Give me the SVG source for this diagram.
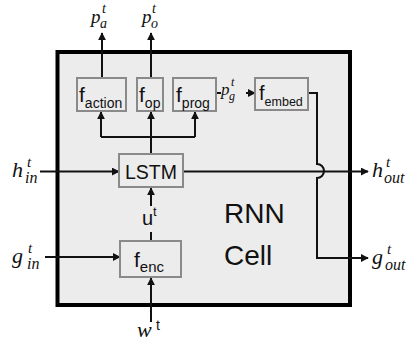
<svg xmlns="http://www.w3.org/2000/svg" width="411" height="347" viewBox="0 0 411 347">
<style>
.box{fill:#ececec;stroke:#8a8a8a;stroke-width:2}
.cell{fill:#ececec;stroke:#000;stroke-width:4}
.ln{fill:none;stroke:#111;stroke-width:2}
.arr{fill:none;stroke:#111;stroke-width:2;marker-end:url(#ah)}
.sf{font-family:"Liberation Sans",Arial,sans-serif;fill:#111}
.m{font-family:"Liberation Serif","Times New Roman",serif;font-style:italic;fill:#111}
</style>
<defs>
<marker id="ah" viewBox="0 0 10 10" refX="9" refY="5" markerWidth="4" markerHeight="4" orient="auto" markerUnits="strokeWidth">
<path d="M0,0 L10,5 L0,10 z" fill="#111"/>
</marker>
</defs>
<rect fill="#fff" width="411" height="347"/>
<g id="rnn-cell">
<rect class="cell" x="57.5" y="52" width="292.5" height="253"/>
<text class="sf" x="224" y="223" font-size="28">RNN</text>
<text class="sf" x="224" y="265" font-size="28">Cell</text>
</g>
<g id="connectors">
<path class="arr" d="M102,78 V33"/>
<path class="arr" d="M151,78 V33"/>
<path class="ln" d="M151,154 V137 M101,137 H195"/>
<path class="arr" d="M101,137 V112"/>
<path class="arr" d="M151,137 V112"/>
<path class="arr" d="M195,137 V112"/>
<path class="ln" d="M216,93 H221"/>
<path class="arr" d="M246,93 H255"/>
<path class="ln" d="M308,93 H317 V164 A7,7 0 0 1 317,178 V258 H362"/>
<path class="arr" d="M317,258 H368"/>
<path class="arr" d="M183,171.5 H368"/>
<path class="arr" d="M40,171.5 H119"/>
<path class="arr" d="M45,257 H120"/>
<path class="arr" d="M151,322 V278"/>
<path class="ln" d="M151,241 V232"/>
<path class="arr" d="M151,206 V188"/>
</g>
<g id="f_action">
<rect class="box" x="77" y="78" width="49" height="33"/>
<text class="sf" x="79" y="102" font-size="21">f<tspan font-size="14" dy="6">action</tspan></text>
</g>
<g id="f_op">
<rect class="box" x="137" y="78" width="26" height="33"/>
<text class="sf" x="139" y="102" font-size="21">f<tspan font-size="14" dy="6">op</tspan></text>
</g>
<g id="f_prog">
<rect class="box" x="173" y="78" width="43" height="33"/>
<text class="sf" x="176" y="102" font-size="21">f<tspan font-size="14" dy="6">prog</tspan></text>
</g>
<g id="f_embed">
<rect class="box" x="255" y="78" width="53" height="32"/>
<text class="sf" x="259" y="100" font-size="20">f<tspan font-size="12.5" dy="6">embed</tspan></text>
</g>
<g id="LSTM">
<rect class="box" x="119" y="154" width="64" height="33"/>
<text class="sf" x="151" y="179" font-size="19.5" text-anchor="middle">LSTM</text>
</g>
<g id="f_enc">
<rect class="box" x="120" y="241" width="61" height="36"/>
<text class="sf" x="134" y="267" font-size="21">f<tspan font-size="15" dy="5">enc</tspan></text>
</g>
<g id="labels">
<text class="m" x="91" y="23" font-size="19">p</text>
<text class="m" x="100" y="28" font-size="14">a</text>
<text class="m" x="102" y="13" font-size="14">t</text>
<text class="m" x="142" y="23" font-size="19">p</text>
<text class="m" x="151" y="28" font-size="14">o</text>
<text class="m" x="152" y="13" font-size="14">t</text>
<text class="m" x="221" y="95" font-size="17">p</text>
<text class="m" x="229" y="100" font-size="12">g</text>
<text class="m" x="231" y="86" font-size="12">t</text>
<text class="m" x="12" y="177" font-size="22">h</text>
<text class="m" x="25" y="183" font-size="16">in</text>
<text class="m" x="27" y="167" font-size="15">t</text>
<text class="m" x="12" y="263" font-size="22">g</text>
<text class="m" x="27" y="269" font-size="16">in</text>
<text class="m" x="28" y="253" font-size="15">t</text>
<text class="m" x="372" y="177" font-size="22">h</text>
<text class="m" x="384" y="183" font-size="16">out</text>
<text class="m" x="386" y="167" font-size="15">t</text>
<text class="m" x="372" y="264" font-size="22">g</text>
<text class="m" x="385" y="270" font-size="16">out</text>
<text class="m" x="387" y="254" font-size="15">t</text>
<text class="m" x="137" y="337" font-size="22">w</text>
<text class="sf" x="156" y="330" font-size="14">t</text>
<text class="sf" x="142" y="225" font-size="20">u</text>
<text class="sf" x="153" y="216" font-size="13">t</text>
</g>
</svg>
